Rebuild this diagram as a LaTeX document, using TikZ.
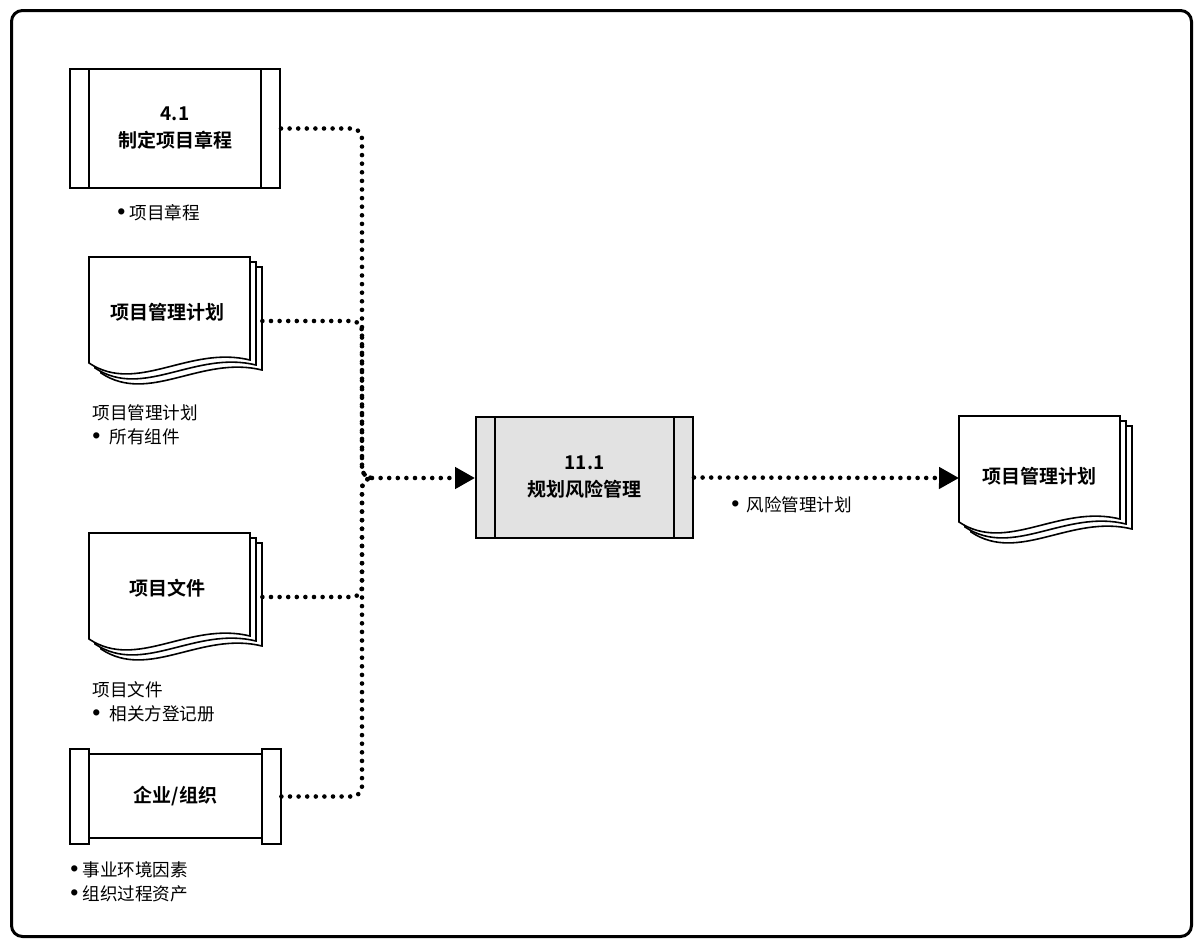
\documentclass[tikz,border=0pt]{standalone}
\usepackage{fontspec}
\setmainfont{Noto Sans CJK SC}[BoldFont={Noto Sans CJK SC Bold}]
\newfontfamily\bulletfont{Liberation Sans}
\newcommand\notebullet[1]{{\bulletfont\fontsize{11.5}{12}\selectfont •}\hspace{#1}}
\usepackage{tikz}
\usetikzlibrary{arrows.meta}
\usetikzlibrary{positioning}

% stack of three pages, front page top left at (#1,#2)
\newcommand\docpages[2]{%
  \foreach \d/\e in {12/10,6/5,0/0}{
    \filldraw[docline,fill=white] ({#1+\d},{#2+\e}) -- ({#1+\d+161},{#2+\e})
      -- ({#1+\d+161},{#2+\e+103})
      .. controls ({#1+\d+100},{#2+\e+88}) and ({#1+\d+48},{#2+\e+138}) .. ({#1+\d},{#2+\e+106})
      -- cycle;
  }}

\begin{document}
\begin{tikzpicture}[x=0.5pt,y=-0.5pt,
  boxline/.style={line width=1pt},
  docline/.style={line width=0.8pt},
  procbox/.style={draw,boxline,inner sep=0pt,align=center,
    path picture={
      \draw[boxline] ([xshift=9.5pt]path picture bounding box.north west) -- ([xshift=9.5pt]path picture bounding box.south west);
      \draw[boxline] ([xshift=-9.5pt]path picture bounding box.north east) -- ([xshift=-9.5pt]path picture bounding box.south east);
    }},
  docbox/.style={draw=none,minimum width=86.5pt,minimum height=64pt,inner sep=0pt},
  title/.style={font=\bfseries\fontsize{9.5}{13.5}\selectfont,align=center,inner sep=0pt},
  note/.style={font=\fontsize{8.8}{12}\selectfont,align=left,anchor=west,inner sep=0pt},
  flow/.style={line width=2.3pt,line cap=round,dash pattern=on 0pt off 4.3pt,rounded corners=5pt},
  tip/.style={-{Triangle[length=10pt,width=10.5pt]}},
]
\useasboundingbox (0,0) rectangle (1200,948);
\draw[line width=1.5pt,rounded corners=5.5pt] (11.5,10.5) rectangle (1191.5,936.5);

%% inputs
\node[procbox,title,minimum width=105pt,minimum height=59.5pt] (charter) at (175,128.5) {4.1\\制定项目章程};
\node[note] (charter-n) at (117,213) {\notebullet{2pt}项目章程};

\docpages{89}{257}
\node[docbox] (pmpin) at (175.5,321) {};
\node[title] (pmpin-t) at (167.5,312) {项目管理计划};
\node[note] (pmpin-n) at (92,425) {项目管理计划\\\notebullet{4.5pt}所有组件};

\docpages{89}{533}
\node[docbox] (docs) at (175.5,597) {};
\node[title] (docs-t) at (167.5,588) {项目文件};
\node[note] (docs-n) at (92,702) {项目文件\\\notebullet{4.5pt}相关方登记册};

\node[draw=none,title,minimum width=105.5pt,minimum height=47.5pt] (ent) at (175.5,796.5) {企业/组织};
\draw[boxline] (ent.north west) rectangle ([xshift=9.5pt]ent.south west);
\draw[boxline] ([xshift=-9.5pt]ent.north east) rectangle (ent.south east);
\draw[boxline] ([xshift=9.5pt,yshift=-2.5pt]ent.north west) -- ([xshift=-9.5pt,yshift=-2.5pt]ent.north east);
\draw[boxline] ([xshift=9.5pt,yshift=3pt]ent.south west) -- ([xshift=-9.5pt,yshift=3pt]ent.south east);
\node[note] (ent-n) at (70,882) {\notebullet{2pt}事业环境因素\\\notebullet{2pt}组织过程资产};

%% process
\node[procbox,title,fill={rgb,255:red,226;green,226;blue,226},minimum width=108.5pt,minimum height=60.5pt] (plan) at (584.5,477.5) {11.1\\规划风险管理};
\coordinate (junc) at (372,478);

%% output
\docpages{959}{416}
\node[docbox,anchor=west] (pmpout) at (959,478) {};
\node[title] (pmpout-t) at (1039.5,476) {项目管理计划};
\node[note] (risk-n) at (731,505) {\notebullet{3.5pt}风险管理计划};

%% connectors
\draw[flow] (charter.east) -- (362,128.5) -- (362,478) -- (junc);
\draw[flow] (pmpin.east) -- (362,321) -- (362,478) -- (junc);
\draw[flow] (docs.east) -- (362,597) -- (362,478) -- (junc);
\draw[flow] (ent.east) -- (362,796.5) -- (362,478) -- (junc);
\draw[flow,tip] (junc) -- (junc -| plan.west);
\draw[flow,tip] (plan.east) -- (pmpout.west);
%
\end{tikzpicture}
\end{document}
